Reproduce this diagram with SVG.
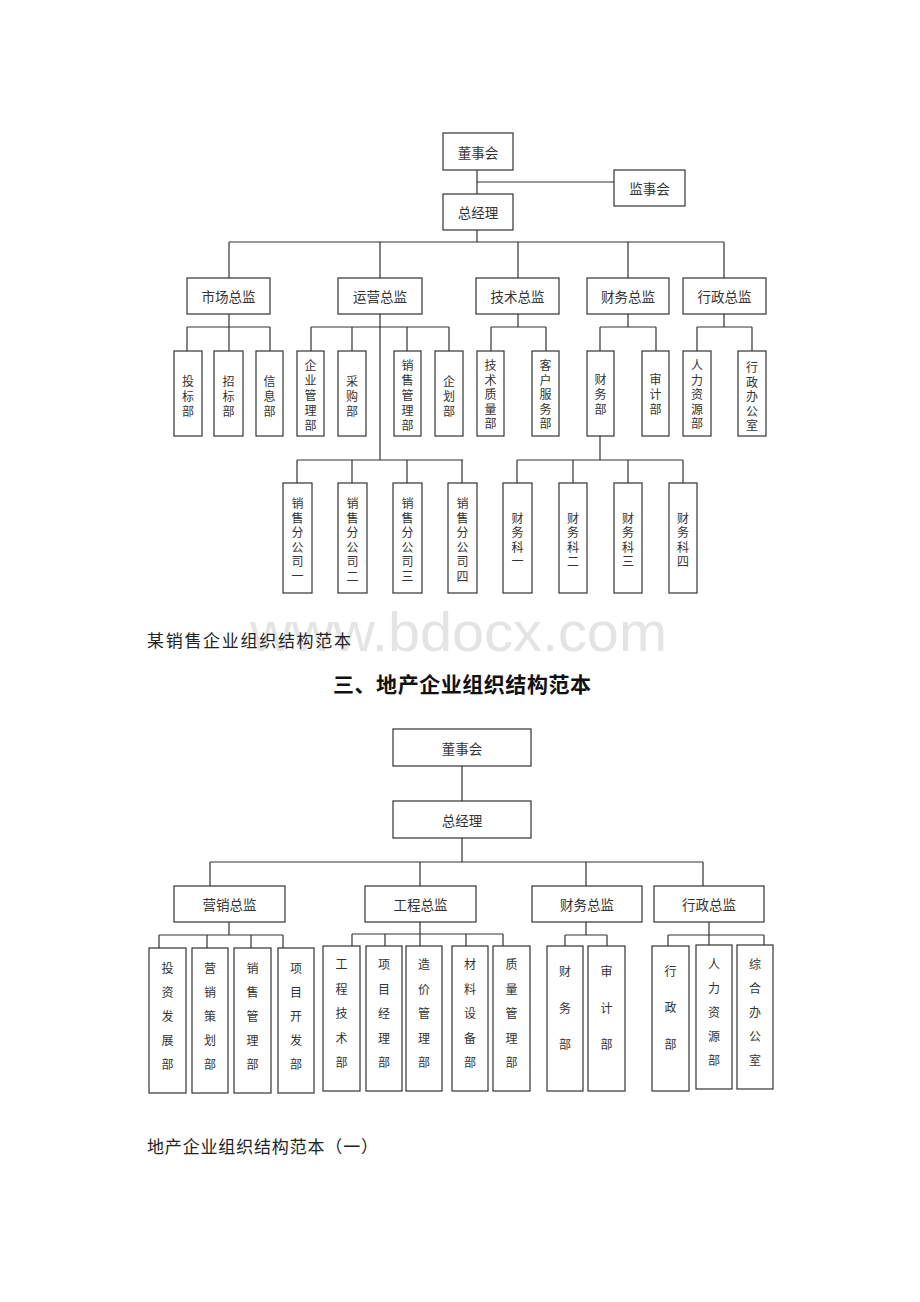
<svg xmlns="http://www.w3.org/2000/svg" width="920" height="1302" viewBox="0 0 920 1302">
<style>
.b{fill:#fff;stroke:#333;stroke-width:1.2}
.c{fill:none;stroke:#333;stroke-width:1.2}
.t{font-family:"Noto Sans CJK SC","Liberation Sans",sans-serif;font-size:13.5px;fill:#333;text-anchor:middle;dominant-baseline:central}
.v{font-family:"Noto Sans CJK SC","Liberation Sans",sans-serif;font-size:12px;fill:#333;text-anchor:middle;dominant-baseline:central}
.cap{font-family:"Noto Sans CJK SC","Liberation Sans",sans-serif;font-size:17px;fill:#222}
.ttl{font-family:"Noto Sans CJK SC","Liberation Sans",sans-serif;font-size:21px;font-weight:bold;fill:#111}
.wm{font-family:"Liberation Sans",Arial,sans-serif;font-size:56px;fill:#e4e4e4}
</style>
<rect width="920" height="1302" fill="#fff"/>

<!-- ===== Connectors ===== -->
<g id="connectors" class="c">
<!-- chart 1 -->
<path d="M477 170V242M477 182H614"/>
<path d="M229 242H724M229 242V278M380 242V278M518 242V278M628 242V278M724 242V278"/>
<path d="M229 314V327M187 327H270M187 327V351M229 327V351M270 327V351"/>
<path d="M380 314V460M311 327H449M311 327V351M352 327V351M407 327V351M449 327V351"/>
<path d="M518 314V327M491 327H546M491 327V351M546 327V351"/>
<path d="M628 314V327M600 327H656M600 327V351M656 327V351"/>
<path d="M724 314V327M697 327H752M697 327V351M752 327V351"/>
<path d="M297 460H463M297 460V483M352 460V483M407 460V483M462 460V483"/>
<path d="M600 436V460M517 460H683M517 460V483M573 460V483M628 460V483M683 460V483"/>
<!-- chart 2 -->
<path d="M462 766V801M462 838V862M210 862H703M210 862V886M420 862V886M586 862V886M703 862V886"/>
<path d="M229 922V935M159 935H283M159 935V948M207 935V948M251 935V948M283 935V948"/>
<path d="M420 922V946M352 934H503M352 934V946M385 934V946M466 934V946M503 934V946"/>
<path d="M586 922V935M565 935H607M565 935V946M607 935V946"/>
<path d="M709 922V945M668 935H764M668 935V946M764 935V945"/>
</g>

<!-- watermark & captions -->
<text class="wm" x="250" y="651" textLength="417" lengthAdjust="spacingAndGlyphs">www.bdocx.com</text>
<text id="caption1" class="cap" x="147" y="647" textLength="204" lengthAdjust="spacing">某销售企业组织结构范本</text>
<text id="title2" class="ttl" x="333" y="692" textLength="258" lengthAdjust="spacing">三、地产企业组织结构范本</text>
<text id="caption2" class="cap" x="147" y="1153" textLength="231" lengthAdjust="spacing">地产企业组织结构范本（一）</text>

<!-- ===== Chart 1 nodes ===== -->
<g id="c1-dongshihui"><rect class="b" x="443" y="133" width="70" height="37"/><text class="t" x="478" y="151.5">董事会</text></g>
<g id="c1-jianshihui"><rect class="b" x="614" y="170" width="71" height="36"/><text class="t" x="649.5" y="188">监事会</text></g>
<g id="c1-zongjingli"><rect class="b" x="443" y="194" width="70" height="36"/><text class="t" x="478" y="212">总经理</text></g>

<g id="c1-shichang"><rect class="b" x="187" y="278" width="83" height="36"/><text class="t" x="228.5" y="296">市场总监</text></g>
<g id="c1-yunying"><rect class="b" x="338" y="278" width="84" height="36"/><text class="t" x="380" y="296">运营总监</text></g>
<g id="c1-jishu"><rect class="b" x="476" y="278" width="83" height="36"/><text class="t" x="517.5" y="296">技术总监</text></g>
<g id="c1-caiwu"><rect class="b" x="587" y="278" width="82" height="36"/><text class="t" x="628" y="296">财务总监</text></g>
<g id="c1-xingzheng"><rect class="b" x="683" y="278" width="83" height="36"/><text class="t" x="724.5" y="296">行政总监</text></g>

<g id="c1-toubiao"><rect class="b" x="174" y="351" width="28" height="85"/><text class="v"><tspan x="188" y="380">投</tspan><tspan x="188" y="395">标</tspan><tspan x="188" y="410">部</tspan></text></g>
<g id="c1-zhaobiao"><rect class="b" x="214" y="351" width="29" height="85"/><text class="v"><tspan x="228.5" y="380">招</tspan><tspan x="228.5" y="395">标</tspan><tspan x="228.5" y="410">部</tspan></text></g>
<g id="c1-xinxi"><rect class="b" x="256" y="351" width="27" height="85"/><text class="v"><tspan x="269.5" y="380">信</tspan><tspan x="269.5" y="395">息</tspan><tspan x="269.5" y="410">部</tspan></text></g>
<g id="c1-qiyeguanli"><rect class="b" x="297" y="351" width="27" height="85"/><text class="v"><tspan x="310.5" y="364">企</tspan><tspan x="310.5" y="379">业</tspan><tspan x="310.5" y="394">管</tspan><tspan x="310.5" y="409">理</tspan><tspan x="310.5" y="424">部</tspan></text></g>
<g id="c1-caigou"><rect class="b" x="338" y="351" width="28" height="85"/><text class="v"><tspan x="352" y="380">采</tspan><tspan x="352" y="395">购</tspan><tspan x="352" y="410">部</tspan></text></g>
<g id="c1-xiaoshouguanli"><rect class="b" x="394" y="351" width="27" height="85"/><text class="v"><tspan x="407.5" y="364">销</tspan><tspan x="407.5" y="379">售</tspan><tspan x="407.5" y="394">管</tspan><tspan x="407.5" y="409">理</tspan><tspan x="407.5" y="424">部</tspan></text></g>
<g id="c1-qihua"><rect class="b" x="435" y="351" width="28" height="85"/><text class="v"><tspan x="449" y="380">企</tspan><tspan x="449" y="395">划</tspan><tspan x="449" y="410">部</tspan></text></g>
<g id="c1-jishuzhiliang"><rect class="b" x="477" y="351" width="27" height="85"/><text class="v"><tspan x="490.5" y="364">技</tspan><tspan x="490.5" y="378.5">术</tspan><tspan x="490.5" y="393">质</tspan><tspan x="490.5" y="407.5">量</tspan><tspan x="490.5" y="422">部</tspan></text></g>
<g id="c1-kehufuwu"><rect class="b" x="532" y="351" width="27" height="85"/><text class="v"><tspan x="545.5" y="364">客</tspan><tspan x="545.5" y="378.5">户</tspan><tspan x="545.5" y="393">服</tspan><tspan x="545.5" y="407.5">务</tspan><tspan x="545.5" y="422">部</tspan></text></g>
<g id="c1-caiwubu"><rect class="b" x="587" y="351" width="27" height="85"/><text class="v"><tspan x="600.5" y="378">财</tspan><tspan x="600.5" y="393">务</tspan><tspan x="600.5" y="408">部</tspan></text></g>
<g id="c1-shenji"><rect class="b" x="642" y="351" width="27" height="85"/><text class="v"><tspan x="655.5" y="378">审</tspan><tspan x="655.5" y="393">计</tspan><tspan x="655.5" y="408">部</tspan></text></g>
<g id="c1-renli"><rect class="b" x="683" y="351" width="28" height="85"/><text class="v"><tspan x="697" y="364">人</tspan><tspan x="697" y="378.5">力</tspan><tspan x="697" y="393">资</tspan><tspan x="697" y="407.5">源</tspan><tspan x="697" y="422">部</tspan></text></g>
<g id="c1-xingzhengbangongshi"><rect class="b" x="738" y="351" width="28" height="85"/><text class="v"><tspan x="752" y="366">行</tspan><tspan x="752" y="380.5">政</tspan><tspan x="752" y="395">办</tspan><tspan x="752" y="409.5">公</tspan><tspan x="752" y="424">室</tspan></text></g>

<g id="c1-fengongsi1"><rect class="b" x="283" y="483" width="29" height="110"/><text class="v"><tspan x="297.5" y="502">销</tspan><tspan x="297.5" y="516.5">售</tspan><tspan x="297.5" y="531">分</tspan><tspan x="297.5" y="545.5">公</tspan><tspan x="297.5" y="560">司</tspan><tspan x="297.5" y="574.5">一</tspan></text></g>
<g id="c1-fengongsi2"><rect class="b" x="338" y="483" width="29" height="110"/><text class="v"><tspan x="352.5" y="502">销</tspan><tspan x="352.5" y="516.5">售</tspan><tspan x="352.5" y="531">分</tspan><tspan x="352.5" y="545.5">公</tspan><tspan x="352.5" y="560">司</tspan><tspan x="352.5" y="574.5">二</tspan></text></g>
<g id="c1-fengongsi3"><rect class="b" x="393" y="483" width="29" height="110"/><text class="v"><tspan x="407.5" y="502">销</tspan><tspan x="407.5" y="516.5">售</tspan><tspan x="407.5" y="531">分</tspan><tspan x="407.5" y="545.5">公</tspan><tspan x="407.5" y="560">司</tspan><tspan x="407.5" y="574.5">三</tspan></text></g>
<g id="c1-fengongsi4"><rect class="b" x="448" y="483" width="29" height="110"/><text class="v"><tspan x="462.5" y="502">销</tspan><tspan x="462.5" y="516.5">售</tspan><tspan x="462.5" y="531">分</tspan><tspan x="462.5" y="545.5">公</tspan><tspan x="462.5" y="560">司</tspan><tspan x="462.5" y="574.5">四</tspan></text></g>
<g id="c1-caiwuke1"><rect class="b" x="503" y="483" width="29" height="110"/><text class="v"><tspan x="517.5" y="516.5">财</tspan><tspan x="517.5" y="531">务</tspan><tspan x="517.5" y="545.5">科</tspan><tspan x="517.5" y="560">一</tspan></text></g>
<g id="c1-caiwuke2"><rect class="b" x="559" y="483" width="28" height="110"/><text class="v"><tspan x="573" y="516.5">财</tspan><tspan x="573" y="531">务</tspan><tspan x="573" y="545.5">科</tspan><tspan x="573" y="560">二</tspan></text></g>
<g id="c1-caiwuke3"><rect class="b" x="614" y="483" width="28" height="110"/><text class="v"><tspan x="628" y="516.5">财</tspan><tspan x="628" y="531">务</tspan><tspan x="628" y="545.5">科</tspan><tspan x="628" y="560">三</tspan></text></g>
<g id="c1-caiwuke4"><rect class="b" x="669" y="483" width="28" height="110"/><text class="v"><tspan x="683" y="516.5">财</tspan><tspan x="683" y="531">务</tspan><tspan x="683" y="545.5">科</tspan><tspan x="683" y="560">四</tspan></text></g>

<!-- ===== Chart 2 nodes ===== -->
<g id="c2-dongshihui"><rect class="b" x="393" y="729" width="138" height="37"/><text class="t" x="462" y="747.5">董事会</text></g>
<g id="c2-zongjingli"><rect class="b" x="393" y="801" width="138" height="37"/><text class="t" x="462" y="819.5">总经理</text></g>

<g id="c2-yingxiao"><rect class="b" x="174" y="886" width="111" height="36"/><text class="t" x="229.5" y="904">营销总监</text></g>
<g id="c2-gongcheng"><rect class="b" x="365" y="886" width="111" height="36"/><text class="t" x="420.5" y="904">工程总监</text></g>
<g id="c2-caiwu"><rect class="b" x="532" y="886" width="110" height="36"/><text class="t" x="587" y="904">财务总监</text></g>
<g id="c2-xingzheng"><rect class="b" x="654" y="886" width="110" height="36"/><text class="t" x="709" y="904">行政总监</text></g>

<g id="c2-touzifazhan"><rect class="b" x="149" y="948" width="37" height="145"/><text class="v"><tspan x="167.5" y="967">投</tspan><tspan x="167.5" y="991">资</tspan><tspan x="167.5" y="1015">发</tspan><tspan x="167.5" y="1039">展</tspan><tspan x="167.5" y="1063">部</tspan></text></g>
<g id="c2-yingxiaocehua"><rect class="b" x="192" y="948" width="36" height="145"/><text class="v"><tspan x="210" y="967">营</tspan><tspan x="210" y="991">销</tspan><tspan x="210" y="1015">策</tspan><tspan x="210" y="1039">划</tspan><tspan x="210" y="1063">部</tspan></text></g>
<g id="c2-xiaoshouguanli"><rect class="b" x="234" y="948" width="37" height="145"/><text class="v"><tspan x="252.5" y="967">销</tspan><tspan x="252.5" y="991">售</tspan><tspan x="252.5" y="1015">管</tspan><tspan x="252.5" y="1039">理</tspan><tspan x="252.5" y="1063">部</tspan></text></g>
<g id="c2-xiangmukaifa"><rect class="b" x="278" y="948" width="36" height="145"/><text class="v"><tspan x="296" y="967">项</tspan><tspan x="296" y="991">目</tspan><tspan x="296" y="1015">开</tspan><tspan x="296" y="1039">发</tspan><tspan x="296" y="1063">部</tspan></text></g>

<g id="c2-gongchengjishu"><rect class="b" x="323" y="946" width="37" height="145"/><text class="v"><tspan x="341.5" y="963">工</tspan><tspan x="341.5" y="987.5">程</tspan><tspan x="341.5" y="1012">技</tspan><tspan x="341.5" y="1036.5">术</tspan><tspan x="341.5" y="1061">部</tspan></text></g>
<g id="c2-xiangmujingli"><rect class="b" x="366" y="946" width="36" height="145"/><text class="v"><tspan x="384" y="963">项</tspan><tspan x="384" y="987.5">目</tspan><tspan x="384" y="1012">经</tspan><tspan x="384" y="1036.5">理</tspan><tspan x="384" y="1061">部</tspan></text></g>
<g id="c2-zaojiaguanli"><rect class="b" x="406" y="946" width="36" height="145"/><text class="v"><tspan x="424" y="963">造</tspan><tspan x="424" y="987.5">价</tspan><tspan x="424" y="1012">管</tspan><tspan x="424" y="1036.5">理</tspan><tspan x="424" y="1061">部</tspan></text></g>
<g id="c2-cailiaoshebei"><rect class="b" x="452" y="946" width="36" height="145"/><text class="v"><tspan x="470" y="963">材</tspan><tspan x="470" y="987.5">料</tspan><tspan x="470" y="1012">设</tspan><tspan x="470" y="1036.5">备</tspan><tspan x="470" y="1061">部</tspan></text></g>
<g id="c2-zhiliangguanli"><rect class="b" x="493" y="946" width="37" height="145"/><text class="v"><tspan x="511.5" y="963">质</tspan><tspan x="511.5" y="987.5">量</tspan><tspan x="511.5" y="1012">管</tspan><tspan x="511.5" y="1036.5">理</tspan><tspan x="511.5" y="1061">部</tspan></text></g>

<g id="c2-caiwubu"><rect class="b" x="547" y="946" width="36" height="145"/><text class="v"><tspan x="565" y="970">财</tspan><tspan x="565" y="1007">务</tspan><tspan x="565" y="1043">部</tspan></text></g>
<g id="c2-shenjibu"><rect class="b" x="588" y="946" width="37" height="145"/><text class="v"><tspan x="606.5" y="970">审</tspan><tspan x="606.5" y="1007">计</tspan><tspan x="606.5" y="1043">部</tspan></text></g>

<g id="c2-xingzhengbu"><rect class="b" x="652" y="946" width="37" height="145"/><text class="v"><tspan x="670.5" y="970">行</tspan><tspan x="670.5" y="1006">政</tspan><tspan x="670.5" y="1043">部</tspan></text></g>
<g id="c2-renliziyuan"><rect class="b" x="696" y="945" width="36" height="144"/><text class="v"><tspan x="714" y="963">人</tspan><tspan x="714" y="987">力</tspan><tspan x="714" y="1011">资</tspan><tspan x="714" y="1035">源</tspan><tspan x="714" y="1059">部</tspan></text></g>
<g id="c2-zonghebangong"><rect class="b" x="737" y="945" width="36" height="144"/><text class="v"><tspan x="755" y="963">综</tspan><tspan x="755" y="987">合</tspan><tspan x="755" y="1011">办</tspan><tspan x="755" y="1035">公</tspan><tspan x="755" y="1059">室</tspan></text></g>
</svg>
